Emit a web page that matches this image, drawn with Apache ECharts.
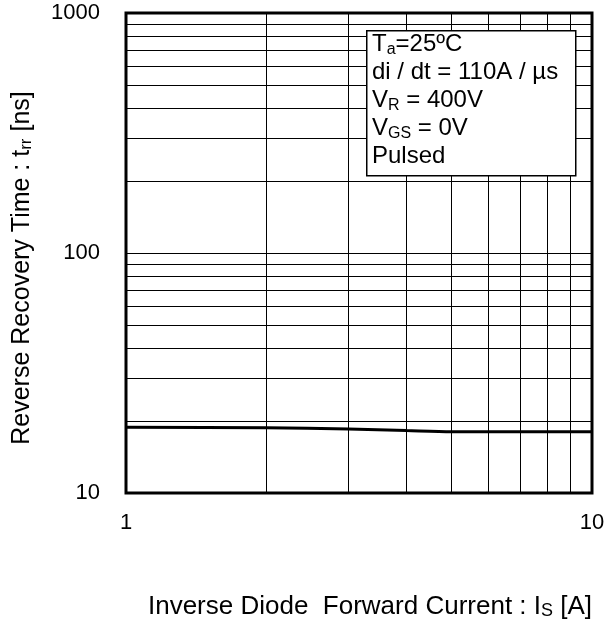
<!DOCTYPE html>
<html>
<head>
<meta charset="utf-8">
<script src="https://cdn.jsdelivr.net/npm/echarts@6/dist/echarts.min.js"></script>
<style>html,body{margin:0;padding:0;background:#fff;}#c{width:616px;height:630px;}</style>
</head>
<body>
<div id="c"></div>
<script>
// Data
var currentA = [1, 2, 3, 4, 5, 6, 8, 10];
var trrNs = [18.8, 18.7, 18.5, 18.2, 18.0, 18.0, 18.0, 18.0];
var xTickLabels = [1, 10];
var yTickLabels = [10, 100, 1000];
var xGridValues = [2, 3, 4, 5, 6, 7, 8, 9];
var yGridValues = [20, 30, 40, 50, 60, 70, 80, 90, 100, 200, 300, 400, 500, 600, 700, 800, 900];
var noteLines = ['{m|T}{s|a}{m|=25ºC}', '{m|di / dt = 110A / µs}', '{m|V}{s|R}{m| = 400V}', '{m|V}{s|GS}{m| = 0V}', '{m|Pulsed}'];

var FONT = 'Liberation Sans';
var chart = echarts.init(document.getElementById('c'), null, {renderer: 'canvas'});

var gridMarks = [];
xGridValues.forEach(function (v) { gridMarks.push({xAxis: v}); });
yGridValues.forEach(function (v) { gridMarks.push({yAxis: v}); });

chart.setOption({
  animation: false,
  backgroundColor: '#fff',
  grid: {left: 126, right: 24, top: 13, bottom: 137, show: true, borderColor: '#000', borderWidth: 3, backgroundColor: 'transparent'},
  xAxis: {
    type: 'log', logBase: 10, min: 1, max: 10,
    axisLine: {show: false}, axisTick: {show: false}, splitLine: {show: false},
    axisLabel: {fontFamily: FONT, fontSize: 22, color: '#000', margin: 19,
      formatter: function (v) { return xTickLabels.indexOf(v) >= 0 ? String(v) : ''; }},
    name: 'Inverse Diode  Forward Current : I{s|S} [A]',
    nameLocation: 'middle', nameGap: 101,
    nameTextStyle: {fontFamily: FONT, fontSize: 26, color: '#000', padding: [0, 0, 0, 22],
      rich: {s: {fontFamily: FONT, fontSize: 18, color: '#000', verticalAlign: 'bottom', lineHeight: 12}}}
  },
  yAxis: {
    type: 'log', logBase: 10, min: 10, max: 1000,
    axisLine: {show: false}, axisTick: {show: false}, splitLine: {show: false},
    axisLabel: {fontFamily: FONT, fontSize: 22, color: '#000', margin: 26,
      formatter: function (v) { return yTickLabels.indexOf(v) >= 0 ? String(v) : ''; }},
    name: 'Reverse Recovery Time : t{s|rr} [ns]',
    nameLocation: 'middle', nameGap: 91,
    nameTextStyle: {fontFamily: FONT, fontSize: 25, color: '#000', padding: [0, 30, 0, 0],
      rich: {s: {fontFamily: FONT, fontSize: 17, color: '#000', verticalAlign: 'bottom', lineHeight: 12}}}
  },
  series: [{
    type: 'line',
    data: currentA.map(function (x, i) { return [x, trrNs[i]]; }),
    showSymbol: false, smooth: 0.3,
    lineStyle: {color: '#000', width: 3},
    z: 5,
    markLine: {
      silent: true, symbol: 'none', animation: false,
      label: {show: false},
      lineStyle: {color: '#000', width: 1, type: 'solid'},
      emphasis: {disabled: true},
      data: gridMarks
    }
  }],
  graphic: [{
    type: 'rect', left: 366, top: 30, z: 100,
    shape: {width: 209, height: 145},
    style: {fill: '#fff', stroke: '#000', lineWidth: 1.5}
  }, {
    type: 'text', left: 372, top: 32, z: 101,
    style: {
      text: noteLines.join('\n'),
      rich: {
        m: {fontFamily: FONT, fontSize: 24, color: '#000', lineHeight: 28},
        s: {fontFamily: FONT, fontSize: 16, color: '#000', lineHeight: 10, verticalAlign: 'bottom'}
      }
    }
  }]
});
</script>
</body>
</html>
